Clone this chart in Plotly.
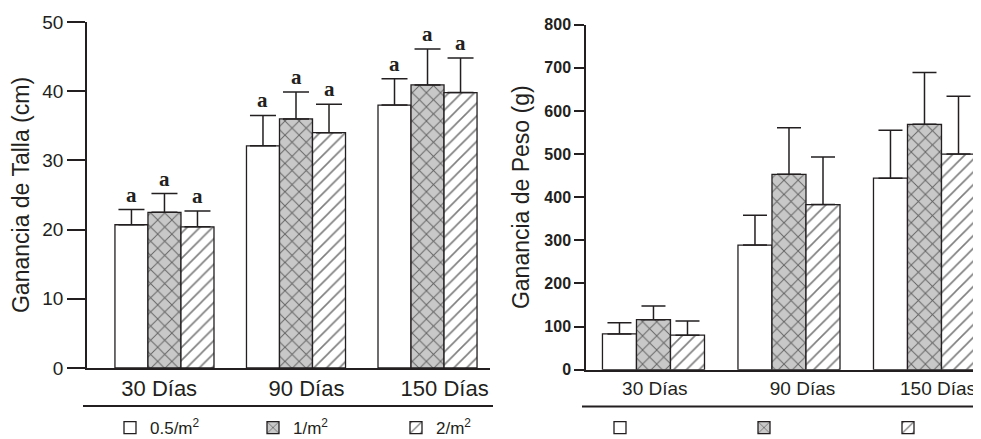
import plotly.graph_objects as go

# ---- data ----
groups = ["30 Días", "90 Días", "150 Días"]
group_pos = [0, 1, 2]
series_names = ["0.5/m<sup>2</sup>", "1/m<sup>2</sup>", "2/m<sup>2</sup>"]

talla_mean = [[20.7, 32.1, 38.0], [22.5, 36.0, 40.9], [20.4, 34.0, 39.8]]
talla_sd = [[2.2, 4.4, 3.8], [2.7, 3.9, 5.2], [2.3, 4.1, 5.0]]
talla_letters = [["a", "a", "a"], ["a", "a", "a"], ["a", "a", "a"]]

peso_mean = [[83, 289, 444], [116, 453, 569], [80, 383, 500]]
peso_sd = [[26, 69, 111], [32, 108, 120], [33, 110, 134]]

left_label_pos = [-0.04, 1.08, 2.13]
right_label_pos = [0.01, 1.10, 2.1]

# ---- styles ----
INK = "#231f20"
FONT = "Liberation Sans, Arial, sans-serif"
styles = [
    dict(color="white", pattern=dict(shape="")),
    dict(color="#c8c8c8", pattern=dict(shape="x", fgcolor="#000000", bgcolor="#c8c8c8", size=10, solidity=0.18, fillmode="overlay")),
    dict(color="white", pattern=dict(shape="/", fgcolor="#000000", bgcolor="white", size=9, solidity=0.18, fillmode="overlay")),
]

# page has an 8px body margin: figure is 973x431 so it fills the 981x439 window
W, H = 973, 431
OFF = 8
BARW = 0.251


def fx(p):
    return (p - OFF) / W


def py(p):
    return (H - (p - OFF)) / H


fig = go.Figure()
for i in range(3):
    fig.add_trace(go.Bar(
        x=group_pos, y=talla_mean[i], name=series_names[i],
        marker=dict(color=styles[i]["color"], pattern=styles[i]["pattern"],
                    line=dict(color=INK, width=1.3)),
        error_y=dict(type="data", symmetric=False, array=talla_sd[i],
                     arrayminus=[0] * 3, color=INK, thickness=1.5, width=13),
        xaxis="x", yaxis="y", legend="legend", offsetgroup=str(i),
    ))
for i in range(3):
    fig.add_trace(go.Bar(
        x=group_pos, y=peso_mean[i], name=" ",
        marker=dict(color=styles[i]["color"], pattern=styles[i]["pattern"],
                    line=dict(color=INK, width=1.3)),
        error_y=dict(type="data", symmetric=False, array=peso_sd[i],
                     arrayminus=[0] * 3, color=INK, thickness=1.5, width=12),
        xaxis="x2", yaxis="y2", legend="legend2", offsetgroup=str(i),
    ))

# significance letters
annotations = []
for i in range(3):
    for g in range(3):
        annotations.append(dict(
            x=group_pos[g] + (i - 1) * BARW, y=talla_mean[i][g] + talla_sd[i][g],
            xref="x", yref="y", text="<b>%s</b>" % talla_letters[i][g],
            showarrow=False, yanchor="bottom", yshift=1,
            font=dict(family="Liberation Serif, Times New Roman, serif", size=21, color=INK),
        ))

fig.update_layout(
    width=W, height=H, margin=dict(l=0, r=0, t=0, b=0, autoexpand=False),
    paper_bgcolor="white", plot_bgcolor="white",
    barmode="group", bargap=0.247, bargroupgap=0,
    font=dict(family=FONT, color=INK),
    showlegend=True,
    xaxis=dict(domain=[fx(87), fx(490)], range=[-0.589, 2.475], anchor="y",
               showline=True, linecolor=INK, linewidth=2, ticks="",
               tickvals=left_label_pos, ticktext=groups, tickfont=dict(size=22),
               showgrid=False, zeroline=False),
    yaxis=dict(domain=[py(368), py(22)], range=[0, 50], dtick=10, anchor="x",
               showline=True, linecolor=INK, linewidth=1.5, ticks="outside",
               ticklen=18, tickwidth=1.5, tickcolor=INK, tickfont=dict(size=19),
               showgrid=False, zeroline=False,
               title=dict(text="Ganancia de Talla (cm)", font=dict(size=23), standoff=8)),
    xaxis2=dict(domain=[fx(586), 1.0], range=[-0.498, 2.417], anchor="y2",
                showline=True, linecolor=INK, linewidth=2, ticks="",
                tickvals=right_label_pos, ticktext=groups, tickfont=dict(size=19),
                showgrid=False, zeroline=False),
    yaxis2=dict(domain=[py(369.7), py(24.7)], range=[0, 800], dtick=100, anchor="x2",
                showline=True, linecolor=INK, linewidth=1.5, ticks="outside",
                ticklen=10, tickwidth=1.5, tickcolor=INK,
                tickfont=dict(size=16, weight="bold"),
                showgrid=False, zeroline=False,
                title=dict(text="Ganancia de Peso (g)", font=dict(size=23), standoff=8)),
    legend=dict(orientation="h", x=fx(110), y=py(428), xanchor="left", yanchor="middle",
                entrywidth=98, entrywidthmode="pixels", font=dict(size=17),
                bgcolor="rgba(0,0,0,0)", traceorder="normal"),
    legend2=dict(orientation="h", x=fx(600), y=py(428), xanchor="left", yanchor="middle",
                 entrywidth=99, entrywidthmode="pixels", font=dict(size=17),
                 bgcolor="rgba(0,0,0,0)", traceorder="normal"),
    shapes=[
        dict(type="line", xref="paper", yref="paper", x0=fx(83), x1=fx(493),
             y0=py(406), y1=py(406), line=dict(color=INK, width=2)),
        dict(type="line", xref="paper", yref="paper", x0=fx(582), x1=1.0,
             y0=py(406.5), y1=py(406.5), line=dict(color=INK, width=2)),
    ],
    annotations=annotations,
)

fig.write_html("out.html")
